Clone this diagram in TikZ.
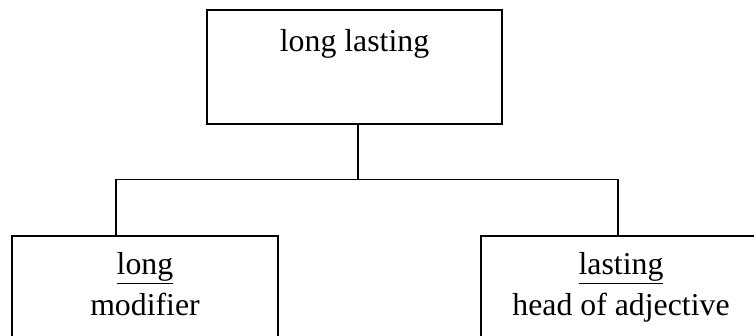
\documentclass[tikz,border=0pt]{standalone}
\usepackage{fontspec}
\setmainfont{Liberation Serif}
\usetikzlibrary{calc}

\begin{document}
\begin{tikzpicture}[x=0.5pt,y=-0.5pt,
  wordbox/.style={draw,line width=0.75pt,inner sep=0pt,anchor=base},
  every node/.style={font=\fontsize{15.9}{20.5}\selectfont}]
\useasboundingbox (0,0) rectangle (754,336);
\clip (0,0) rectangle (754,336);
\node[wordbox,minimum width=147.5pt,text height=21pt,text depth=36pt] (top) at (354.5,52) {long lasting};
\node[wordbox,minimum width=133pt,text height=19pt,text depth=41pt] (mod) at (145,274)
  {\begin{tabular}[t]{@{}c@{}}\underline{long}\\modifier\end{tabular}};
\node[wordbox,minimum width=140pt,text height=19pt,text depth=41pt] (head) at (621,274)
  {\begin{tabular}[t]{@{}c@{}}\underline{lasting}\\head of adjective\end{tabular}};
\draw[line width=0.75pt] ([xshift=1.75pt]top.south) -- ++(0,-27.5pt) coordinate (bar);
\draw[line width=0.75pt] ([xshift=-14.5pt]mod.north) |- (bar) -| ([xshift=-1.5pt]head.north);
\end{tikzpicture}
\end{document}
